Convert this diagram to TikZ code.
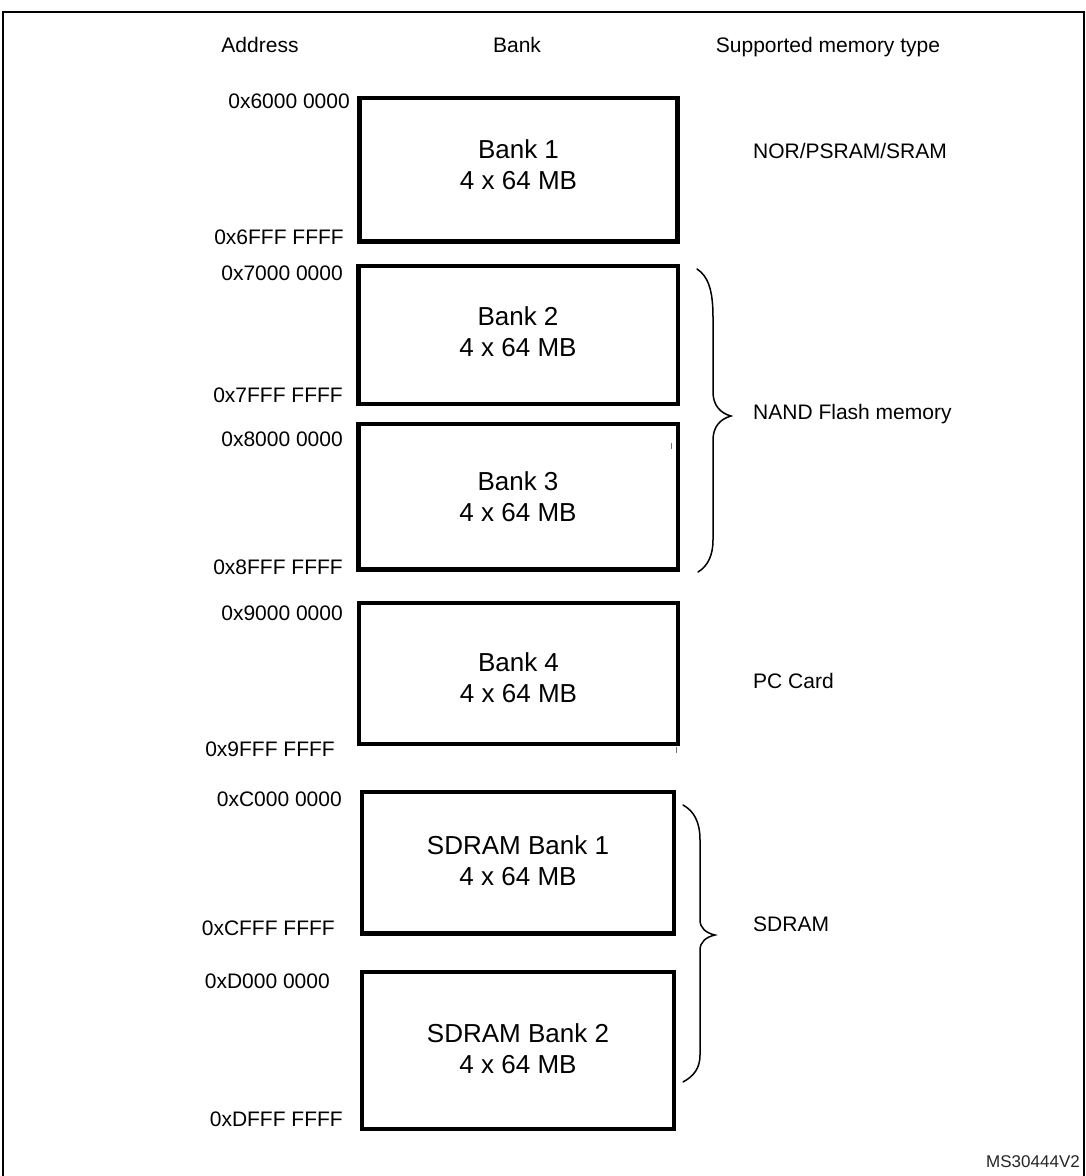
\documentclass[tikz,border=0pt]{standalone}
\usepackage{fontspec}
\setmainfont{Liberation Sans}
\begin{document}
\begin{tikzpicture}[x=1pt,y=-1pt,
  bankbox/.style={draw=black, line width=4.5pt, rectangle, inner sep=0pt, minimum width=318pt},
  banktxt/.style={font=\fontsize{26pt}{31pt}\selectfont, align=center, inner sep=0pt},
  addr/.style={font=\fontsize{21pt}{25pt}\selectfont, anchor=base east, inner sep=0pt},
  mtype/.style={font=\fontsize{21pt}{25pt}\selectfont, anchor=base west, inner sep=0pt},
  head/.style={font=\fontsize{21pt}{25pt}\selectfont, anchor=base, inner sep=0pt},
  bracepath/.style={draw=black, line width=1.5pt, line cap=round},
  frameline/.style={draw=black, line width=2pt},
  tick/.style={draw=black!55, line width=1pt}]
\useasboundingbox (0,0) rectangle (1085,1176);
\fill[white] (0,0) rectangle (1085,1176);

% frame
\draw[frameline] (3,1180) -- (3,12) -- (1084,12) -- (1084,1180);

% headers
\node[head] (hAddr) at (260,52) {Address};
\node[head] (hBank) at (517,52) {Bank};
\node[head] (hType) at (828,52) {Supported memory type};

% bank boxes
\node[bankbox, minimum width=318pt, minimum height=143.5pt] (b1) at (518.5,169.75) {};
\node[bankbox, minimum width=319.5pt, minimum height=138pt] (b2) at (518.25,335) {};
\node[bankbox, minimum width=319.5pt, minimum height=145.5pt] (b3) at (518.25,496.75) {};
\node[bankbox, minimum width=319pt, minimum height=141pt] (b4) at (518.5,673.5) {};
\node[bankbox, minimum width=312pt, minimum height=141.5pt] (s1) at (518,862.75) {};
\node[bankbox, minimum width=312pt, minimum height=157pt] (s2) at (518,1050.5) {};

% bank texts
\node[banktxt] (b1t) at (518.5,165) {Bank 1\\4 x 64 MB};
\node[banktxt] (b2t) at (518,332) {Bank 2\\4 x 64 MB};
\node[banktxt] (b3t) at (518,496.5) {Bank 3\\4 x 64 MB};
\node[banktxt] (b4t) at (518.5,678) {Bank 4\\4 x 64 MB};
\node[banktxt] (s1t) at (518,861) {SDRAM Bank 1\\4 x 64 MB};
\node[banktxt] (s2t) at (518,1049) {SDRAM Bank 2\\4 x 64 MB};

% small marks
\draw[tick] (671,443) -- (671,449);
\draw[tick] (676,747) -- (676,753);

% addresses
\node[addr] (a1) at (350,108.5) {0x6000 0000};
\node[addr] (a2) at (344,244.5) {0x6FFF FFFF};
\node[addr] (a3) at (343,280.5) {0x7000 0000};
\node[addr] (a4) at (343,402.5) {0x7FFF FFFF};
\node[addr] (a5) at (343,446.5) {0x8000 0000};
\node[addr] (a6) at (343,574.5) {0x8FFF FFFF};
\node[addr] (a7) at (343,620.5) {0x9000 0000};
\node[addr] (a8) at (335,756.5) {0x9FFF FFFF};
\node[addr] (a9) at (342,806.5) {0xC000 0000};
\node[addr] (a10) at (335,935.5) {0xCFFF FFFF};
\node[addr] (a11) at (330,988.5) {0xD000 0000};
\node[addr] (a12) at (343,1126.5) {0xDFFF FFFF};

% memory types
\node[mtype] (t1) at (753,158) {NOR/PSRAM/SRAM};
\node[mtype] (t2) at (753,419.5) {NAND Flash memory};
\node[mtype] (t3) at (753,688.5) {PC Card};
\node[mtype] (t4) at (753,931) {SDRAM};

% braces
\coordinate (nandTop) at (697,269);
\coordinate (nandTip) at (731,416);
\coordinate (nandBot) at (698,572);
\draw[bracepath] (nandTop) .. controls (708,276) and (713,290) .. (713,317)
  -- (713,392) .. controls (713,405) and (720,413) .. (nandTip)
  .. controls (720,419) and (713,427) .. (713,440)
  -- (713,540) .. controls (713,555) and (708,566) .. (nandBot);

\coordinate (sdTop) at (683,805);
\coordinate (sdTip) at (715,935);
\coordinate (sdBot) at (683,1082);
\draw[bracepath] (sdTop) .. controls (694,811) and (700,822) .. (700,840)
  -- (700,920) .. controls (700,928) and (706,933) .. (sdTip)
  .. controls (706,937) and (700,942) .. (700,950)
  -- (700,1055) .. controls (700,1068) and (694,1076) .. (sdBot);

% reference id
\node[font=\fontsize{17pt}{20pt}\selectfont, text=black!85, anchor=base east, inner sep=0pt] (ms) at (1080,1167.5) {MS30444V2};
\end{tikzpicture}
\end{document}
